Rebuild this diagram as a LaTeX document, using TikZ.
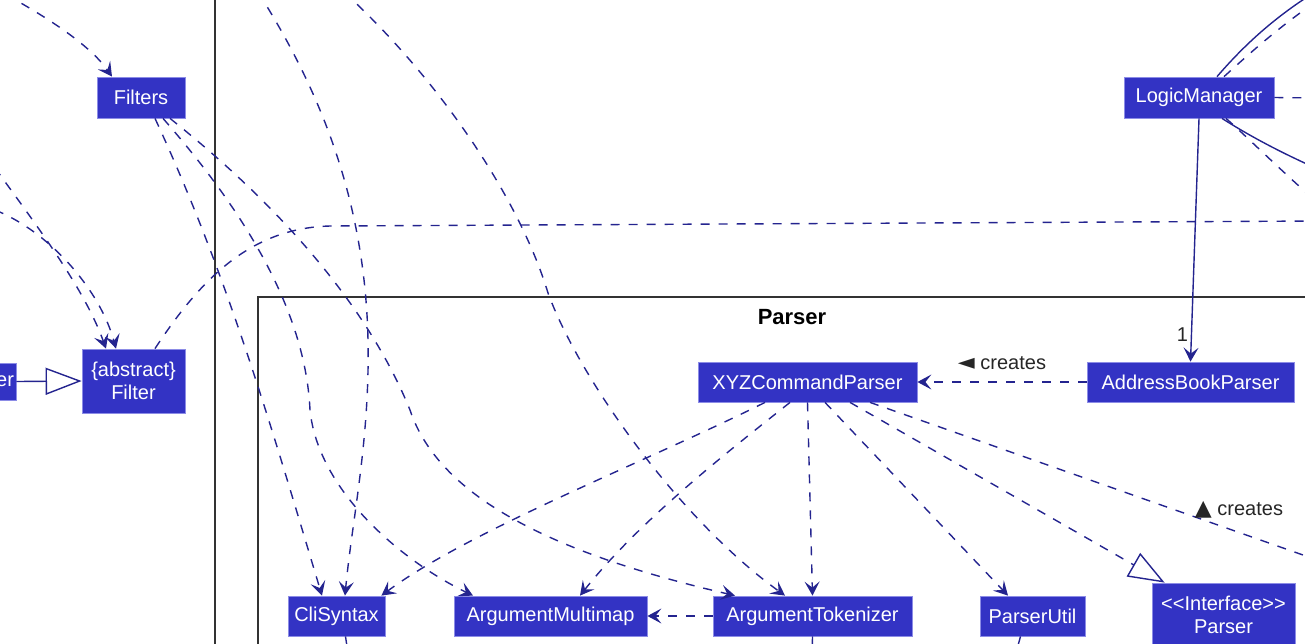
\documentclass[tikz,border=0pt]{standalone}
\usepackage{fontspec}
\setmainfont{Liberation Sans}
\newfontfamily\symfont{DejaVu Sans}
\newcommand\trifont{\symfont\fontsize{22}{22}\selectfont}
\usetikzlibrary{arrows.meta}

\definecolor{logicfill}{HTML}{3333C4}
\definecolor{logicedge}{HTML}{8C8CE6}
\definecolor{logicline}{HTML}{24248F}

\tikzset{
  cls/.style={draw=logicedge, line width=0.8pt, fill=logicfill, text=white,
    font=\fontsize{20}{23}\selectfont, minimum height=41pt, inner sep=0pt, align=center},
  dep/.style={draw=logicline, line width=1.4pt, dash pattern=on 9pt off 9pt},
  assoc/.style={draw=logicline, line width=1.4pt},
  headarr/.style={-{Stealth[length=14pt,width=15pt,inset=6pt]}},
  realise/.style={-{Triangle[open,fill=white,length=36pt,width=27pt]}},
  pkg/.style={draw=black!80, line width=1.8pt},
  lbl/.style={font=\fontsize{20}{23}\selectfont, text=black!85},
}

\begin{document}
\begin{tikzpicture}[x=1pt,y=-1pt]
  \useasboundingbox (0,0) rectangle (1305,643);
  \clip (0,0) rectangle (1305,643);

  % packages
  \draw[pkg] (215,-10) -- (215,660);
  \draw[pkg] (258,660) -- (258,297) -- (1320,297);
  \node[font=\fontsize{22}{25}\selectfont\bfseries] (parserpkg) at (792,317) {Parser};

  % free ends outside the frame
  \coordinate (topleft) at (-10,-14);
  \coordinate (leftA) at (-5,168);
  \coordinate (leftB) at (-5,210);
  \coordinate (topC) at (258,-8);
  \coordinate (topD) at (344,-8);
  \coordinate (farright) at (1320,221);
  \coordinate (lmright) at (1320,98);
  \coordinate (lmup) at (1315,-8);
  \coordinate (lmupd) at (1318,0);
  \coordinate (lmdown) at (1320,170);
  \coordinate (lmdownd) at (1320,205);
  \coordinate (createsend) at (1320,561);
  \coordinate (clibelow) at (349,660);
  \coordinate (tokbelow) at (812,660);
  \coordinate (utilbelow) at (1014,660);

  % classes
  \node[cls, minimum width=88pt] (filters) at (141,97.5) {Filters};
  \node[cls, minimum width=103pt, minimum height=64pt] (filter) at (133.5,381) {\{abstract\}\\Filter};
  \node[cls, minimum width=80pt, minimum height=37pt, text width=76pt, align=right] (subfilter) at (-24,381.5) {er};
  \node[cls, minimum width=150pt] (logicmgr) at (1199,97.5) {LogicManager};
  \node[cls, minimum width=207pt, minimum height=40pt] (abparser) at (1190.5,382) {AddressBookParser};
  \node[cls, minimum width=219pt, minimum height=40pt] (xyzparser) at (807.5,382) {XYZCommandParser};
  \node[cls, minimum width=97pt, minimum height=40pt] (clisyntax) at (336.5,616) {CliSyntax};
  \node[cls, minimum width=193pt, minimum height=40pt] (argmultimap) at (550.5,616) {ArgumentMultimap};
  \node[cls, minimum width=199pt, minimum height=40pt] (argtokenizer) at (812.5,616) {ArgumentTokenizer};
  \node[cls, minimum width=105pt, minimum height=40pt] (parserutil) at (1032.5,616) {ParserUtil};
  \node[cls, minimum width=143pt, minimum height=64pt] (parseriface) at (1223.5,615) {<{}<Interface>{}>\\Parser};

  % left side
  \draw[dep, headarr] (topleft) .. controls (45,15) and (90,45) .. ([xshift=-29pt]filters.north);
  \draw[dep, headarr] (leftA) .. controls (40,230) and (85,290) .. ([xshift=-27.5pt]filter.north);
  \draw[dep, headarr] (leftB) .. controls (50,232) and (100,290) .. ([xshift=-17.5pt]filter.north);
  \draw[assoc, realise] (subfilter.east) -- (filter.west);
  \draw[dep] ([xshift=21.5pt]filter.north) .. controls (200,280) and (250,228) .. (330,226) -- (farright);

  % from Filters into the parser package
  \draw[dep, headarr] ([xshift=14pt]filters.south) .. controls (229,278) and (274,436) .. ([xshift=-14.5pt]clisyntax.north);
  \draw[dep, headarr] ([xshift=22pt]filters.south) .. controls (230,195) and (305,300) .. (310,410)
    .. controls (318,490) and (400,560) .. ([xshift=-77.5pt]argmultimap.north);
  \draw[dep, headarr] ([xshift=29pt]filters.south) .. controls (260,190) and (362,292) .. (410,410)
    .. controls (440,500) and (560,555) .. ([xshift=-77.5pt]argtokenizer.north);

  % from above the frame
  \draw[dep, headarr] (topC) .. controls (320,90) and (365,200) .. (368,340)
    .. controls (370,440) and (352,520) .. ([xshift=8.5pt]clisyntax.north);
  \draw[dep, headarr] (topD) .. controls (440,80) and (520,200) .. (548,293)
    .. controls (580,380) and (680,520) .. ([xshift=-27.5pt]argtokenizer.north);

  % logic manager
  \draw[assoc, headarr] (logicmgr.south) -- node[lbl, pos=0.89, xshift=-9pt] {1} (abparser.north);
  \draw[dep] (logicmgr.east) -- (lmright);
  \draw[assoc] ([xshift=18pt]logicmgr.north) .. controls (1240,50) and (1270,20) .. (lmup);
  \draw[dep] ([xshift=25pt]logicmgr.north) .. controls (1248,55) and (1275,30) .. (lmupd);
  \draw[assoc] ([xshift=23pt]logicmgr.south) .. controls (1245,133) and (1275,150) .. (lmdown);
  \draw[dep] ([xshift=27pt]logicmgr.south) .. controls (1245,135) and (1275,165) .. (lmdownd);

  % parser package
  \draw[dep, headarr] (abparser.west) -- node[lbl, midway, yshift=19pt] {{\trifont ◄} creates} (xyzparser.east);
  \draw[dep, headarr] ([xshift=-42.5pt]xyzparser.south) .. controls (650,460) and (470,530) .. ([xshift=-4pt]clisyntax.north east);
  \draw[dep, headarr] ([xshift=-17.5pt]xyzparser.south) .. controls (730,450) and (640,520) .. ([xshift=29.5pt]argmultimap.north);
  \draw[dep, headarr] (xyzparser.south) -- (argtokenizer.north);
  \draw[dep, headarr] ([xshift=17.5pt]xyzparser.south) -- ([xshift=-24.5pt]parserutil.north);
  \draw[dep, realise] ([xshift=42.5pt]xyzparser.south) -- ([xshift=13pt]parseriface.north west);
  \draw[dep] ([xshift=62.5pt]xyzparser.south) -- node[lbl, pos=0.82, yshift=23pt] {{\trifont ▲} creates} (createsend);
  \draw[dep, headarr] (argtokenizer.west) -- (argmultimap.east);

  % leaving at the bottom
  \draw[dep] ([xshift=9pt]clisyntax.south) -- (clibelow);
  \draw[dep] (argtokenizer.south) -- (tokbelow);
  \draw[dep] ([xshift=-12pt]parserutil.south) -- (utilbelow);
\end{tikzpicture}
\end{document}
